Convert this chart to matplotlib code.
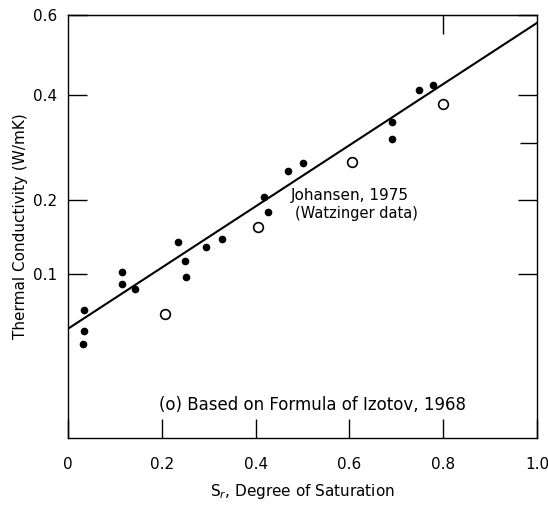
import numpy as np
import matplotlib
matplotlib.use("Agg")
import matplotlib.pyplot as plt

# Watzinger data (filled points)
sat_filled = [0.034, 0.034, 0.032, 0.115, 0.115, 0.143, 0.235, 0.250, 0.252,
              0.294, 0.328, 0.418, 0.426, 0.469, 0.501, 0.691, 0.691, 0.748, 0.778]
k_filled = [0.0636, 0.0462, 0.0368, 0.102, 0.089, 0.0838, 0.139, 0.115, 0.0965,
            0.132, 0.143, 0.205, 0.181, 0.249, 0.263, 0.343, 0.308, 0.412, 0.424]

# Izotov formula (open points)
sat_open = [0.207, 0.405, 0.606, 0.80]
k_open = [0.060, 0.159, 0.265, 0.381]

# Johansen line end points
sat_line = [0.0, 1.0]
k_line = [0.0477, 0.579]

ytick_vals = [0.1, 0.2, 0.4, 0.6]
ytick_labels = ["0.1", "0.2", "0.4", "0.6"]
xtick_vals = [0, 0.2, 0.4, 0.6, 0.8, 1.0]
xtick_labels = ["0", "0.2", "0.4", "0.6", "0.8", "1.0"]

fig = plt.figure(figsize=(5.48, 5.05), dpi=100)
ax = fig.add_axes([0.124, 0.133, 0.856, 0.837])

ax.set_yscale("function", functions=(lambda v: np.sqrt(np.clip(v, 0, None)),
                                     lambda v: np.asarray(v) ** 2))

ax.plot(sat_line, k_line, color="black", linewidth=1.5)
ax.plot(sat_filled, k_filled, "o", color="black", markersize=4.5)
ax.plot(sat_open, k_open, "o", markerfacecolor="white", markeredgecolor="black",
        markersize=7, markeredgewidth=1.2)

ax.set_xlim(0, 1.0)
ax.set_ylim(0.000625, 0.6)

ax.set_xticks(xtick_vals)
ax.set_xticklabels(xtick_labels, fontsize=11)
ax.set_yticks(ytick_vals)
ax.set_yticklabels(ytick_labels, fontsize=11)
ax.set_yticks([0.3], minor=True)
ax.tick_params(axis="both", which="major", direction="in", length=14, width=1,
               right=True)
ax.tick_params(axis="x", which="major", pad=14)
ax.tick_params(axis="y", which="major", pad=8)
ax.tick_params(axis="both", which="minor", direction="in", length=12, width=1,
               left=False, right=True)

top = ax.secondary_xaxis("top")
top.set_xticks([0.8])
top.set_xticklabels([])
top.tick_params(direction="in", length=14, width=1)

for s in ax.spines.values():
    s.set_linewidth(1.0)

ax.set_xlabel("S$_r$, Degree of Saturation", fontsize=11, labelpad=7)
ax.set_ylabel("Thermal Conductivity (W/mK)", fontsize=11, labelpad=3)

ax.text(0.475, 0.2, "Johansen, 1975", fontsize=11)
ax.text(0.485, 0.172, "(Watzinger data)", fontsize=10.5)
ax.text(0.195, 0.0055, "(o) Based on Formula of Izotov, 1968", fontsize=12)

fig.savefig("out.png", dpi=100)
